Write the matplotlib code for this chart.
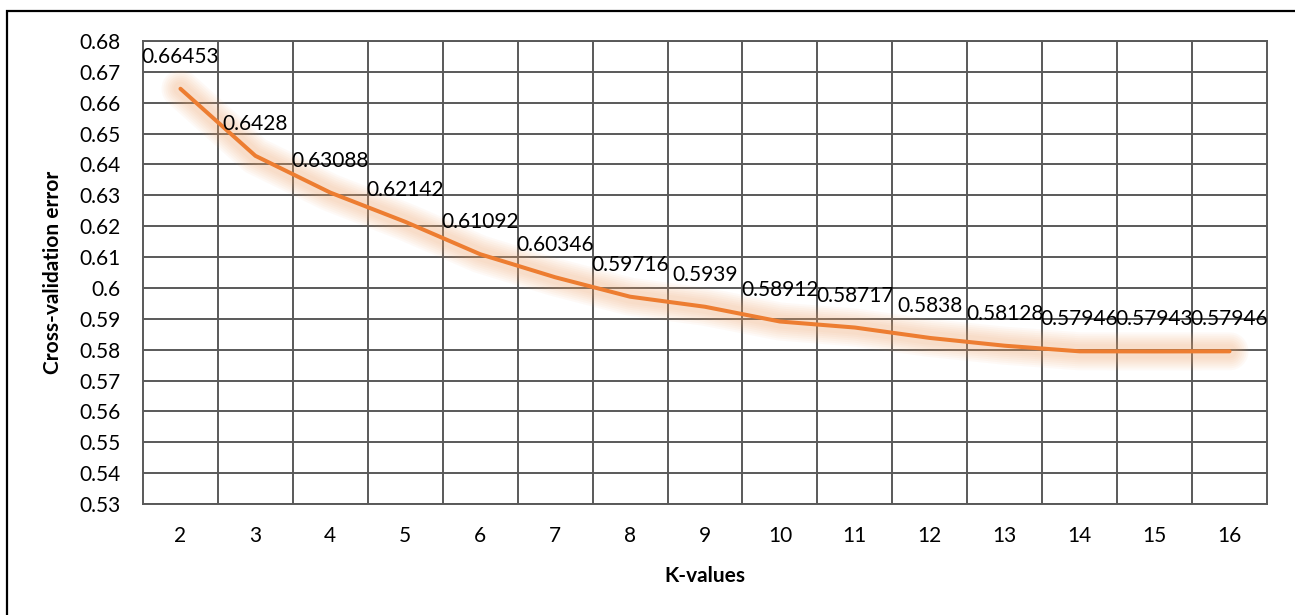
import matplotlib
matplotlib.use("Agg")
import matplotlib.pyplot as plt
from matplotlib.patches import Rectangle

# Cross-validation error for each number of clusters K
k_values = [2, 3, 4, 5, 6, 7, 8, 9, 10, 11, 12, 13, 14, 15, 16]
cv_error = [0.66453, 0.6428, 0.63088, 0.62142, 0.61092, 0.60346, 0.59716,
            0.5939, 0.58912, 0.58717, 0.5838, 0.58128, 0.57946, 0.57943, 0.57946]
y_ticks = [0.53, 0.54, 0.55, 0.56, 0.57, 0.58, 0.59, 0.60,
           0.61, 0.62, 0.63, 0.64, 0.65, 0.66, 0.67, 0.68]

W, H, DPI = 1295, 615, 100
plt.rcParams["font.family"] = ["Lato", "DejaVu Sans"]

fig = plt.figure(figsize=(W / DPI, H / DPI), dpi=DPI)
fig.patch.set_facecolor("white")

# chart frame
fig.patches.append(Rectangle((7 / W, -0.05), 1.2, 1 - 11 / H + 0.05,
                             transform=fig.transFigure, fill=False,
                             edgecolor="black", linewidth=1.6, clip_on=False))

left, right, top, bottom = 143, 1267, 41, 504
ax = fig.add_axes([left / W, 1 - bottom / H, (right - left) / W, (bottom - top) / H])

grid_color = "#595959"
ax.set_xlim(k_values[0] - 0.5, k_values[-1] + 0.5)
ax.set_ylim(y_ticks[0], y_ticks[-1])

ax.set_yticks(y_ticks)
ax.set_yticklabels([f"{round(v, 2):g}" for v in y_ticks])
ax.set_xticks(k_values)
ax.set_xticklabels([str(k) for k in k_values])

# horizontal gridlines at every tick, vertical lines between categories
for v in y_ticks:
    ax.axhline(v, color=grid_color, lw=1.4, zorder=1)
for k in k_values[:-1]:
    ax.axvline(k + 0.5, color=grid_color, lw=1.4, zorder=1)

for s in ax.spines.values():
    s.set_color(grid_color)
    s.set_linewidth(1.4)

ax.tick_params(axis="both", length=0, labelsize=15, colors="black", pad=16)

# soft glow under the line
orange = "#ED7D31"
for w in [38, 34, 30, 26, 22, 18, 14]:
    ax.plot(k_values, cv_error, color="#F4A46C", lw=w / 1.389, alpha=0.06,
            solid_capstyle="round", solid_joinstyle="round", zorder=2)
ax.plot(k_values, cv_error, color=orange, lw=2.9,
        solid_capstyle="round", solid_joinstyle="round", zorder=3)

for k, v in zip(k_values, cv_error):
    ax.annotate(f"{v:g}", (k, v), xytext=(0, 23), textcoords="offset points",
                ha="center", va="center", fontsize=15, color="black", zorder=4)

ax.set_xlabel("K-values", fontsize=15, fontweight="bold", labelpad=14)
ax.set_ylabel("Cross-validation error", fontsize=15, fontweight="bold", labelpad=12)

fig.savefig("out.png", dpi=DPI)
